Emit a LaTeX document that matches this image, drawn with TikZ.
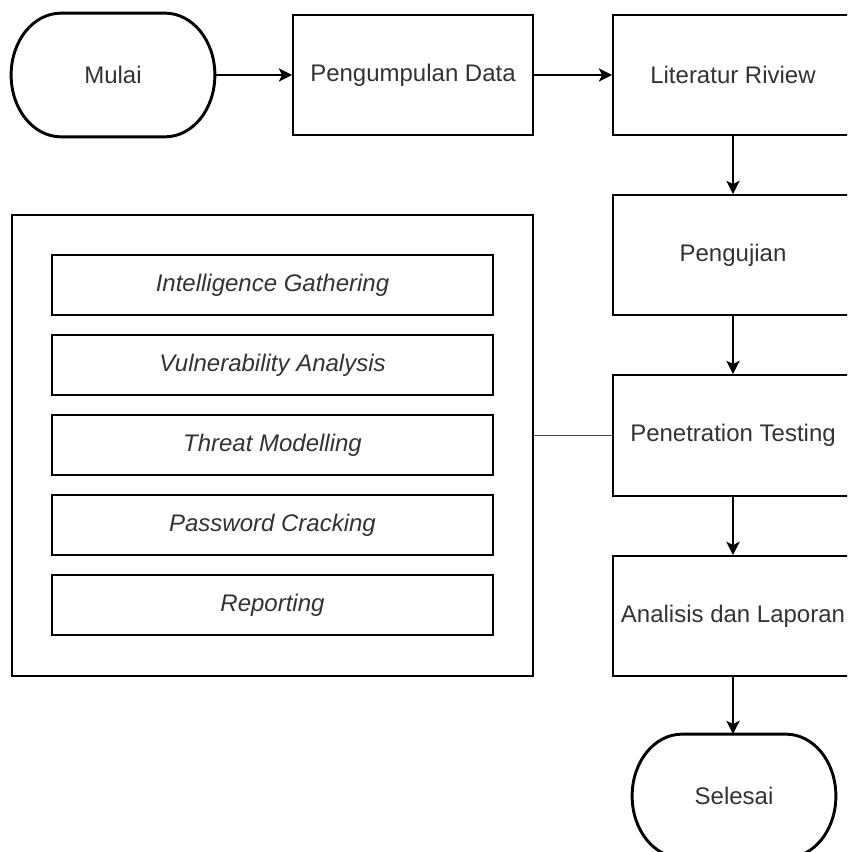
\documentclass[tikz,border=0pt]{standalone}
\usepackage{fontspec}
\setmainfont{Liberation Sans}
\usetikzlibrary{arrows.meta,calc}
\definecolor{txt}{HTML}{333333}
\tikzset{
  x=0.75pt, y=-0.75pt,
  box/.style={draw=black, line width=1.3pt, fill=white, rectangle, inner sep=0pt,
    font=\fontsize{18}{21}\selectfont, text=txt},
  term/.style={box, draw=none, fill=none},
  termline/.style={draw=black, line width=2.2pt, line join=round},
  sub/.style={box, font=\fontsize{18}{21}\selectfont\itshape, minimum width=441*0.75pt, minimum height=60*0.75pt},
  flow/.style={draw=black, line width=1.2pt, -{Stealth[length=10pt,width=10pt,inset=2.5pt]}},
  link/.style={draw=black!70, line width=1.1pt}
}
\newcommand\termshape[1]{%
  \draw[termline] ($(#1.north west)+(50,0)$) -- ($(#1.north east)+(-50,0)$)
    .. controls ($(#1.north east)+(-22.4,0)$) and ($(#1.north east)+(0,27.3)$) .. (#1.east)
    .. controls ($(#1.south east)+(0,-27.3)$) and ($(#1.south east)+(-22.4,0)$) .. ($(#1.south east)+(-50,0)$)
    -- ($(#1.south west)+(50,0)$)
    .. controls ($(#1.south west)+(22.4,0)$) and ($(#1.south west)+(0,-27.3)$) .. (#1.west)
    .. controls ($(#1.north west)+(0,27.3)$) and ($(#1.north west)+(22.4,0)$) .. cycle;}
\begin{document}
\begin{tikzpicture}
\clip (0,0) rectangle (847,852);
\fill[white] (0,0) rectangle (847,852);
\node[term, minimum width=202*0.75pt, minimum height=122*0.75pt] (mulai) at (113,75) {Mulai};
\termshape{mulai}
\node[box, minimum width=240*0.75pt, minimum height=120*0.75pt] (peng) at (413,75) {Pengumpulan Data};
\node[box, minimum width=240*0.75pt, minimum height=120*0.75pt] (lit) at (733,75) {Literatur Riview};
\node[box, minimum width=240*0.75pt, minimum height=120*0.75pt] (uji) at (733,255) {Pengujian};
\node[box, minimum width=240*0.75pt, minimum height=121*0.75pt] (pen) at (733,435.5) {Penetration Testing};
\node[box, minimum width=240*0.75pt, minimum height=120*0.75pt] (ana) at (733,616) {Analisis dan Laporan};
\node[term, minimum width=202*0.75pt, minimum height=122*0.75pt] (sel) at (734,796) {Selesai};
\termshape{sel}

\node[box, minimum width=521*0.75pt, minimum height=461*0.75pt] (cont) at (272.5,445.5) {};
\node[sub] (s1) at (272.5,285) {Intelligence Gathering};
\node[sub] (s2) at (272.5,365) {Vulnerability Analysis};
\node[sub] (s3) at (272.5,445) {Threat Modelling};
\node[sub] (s4) at (272.5,525) {Password Cracking};
\node[sub] (s5) at (272.5,605) {Reporting};

\draw[flow] (mulai) -- (peng);
\draw[flow] (peng) -- (lit);
\draw[flow] (lit) -- (uji);
\draw[flow] (uji) -- (pen);
\draw[flow] (pen) -- (ana);
\draw[flow] (ana.south) -- (ana.south |- sel.north);
\draw[link] (cont.east |- pen.west) -- (pen.west);
\end{tikzpicture}
\end{document}
